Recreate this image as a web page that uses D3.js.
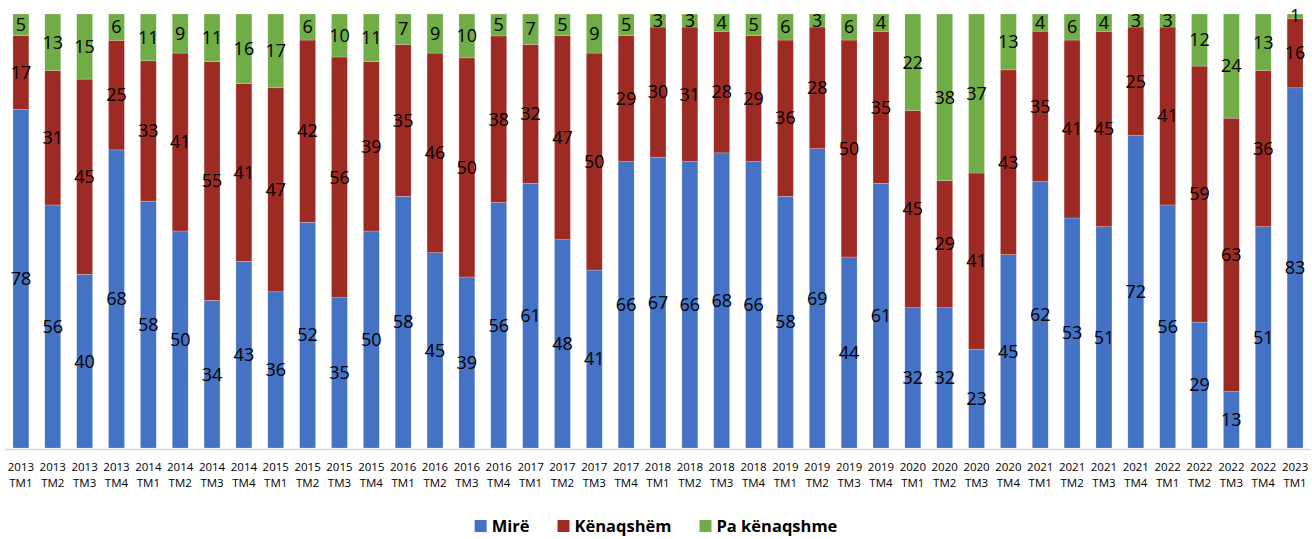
<!DOCTYPE html>
<html>
<head>
<meta charset="utf-8">
<script src="https://cdn.jsdelivr.net/npm/d3@7"></script>
<style>
  html, body { margin: 0; padding: 0; background: #fff; }
  svg { display: block; font-family: "Open Sans", sans-serif; }
</style>
</head>
<body>
<div id="chart"></div>
<script>
const years = ["2013","2013","2013","2013","2014","2014","2014","2014","2015","2015","2015","2015",
  "2016","2016","2016","2016","2017","2017","2017","2017","2018","2018","2018","2018",
  "2019","2019","2019","2019","2020","2020","2020","2020","2021","2021","2021","2021",
  "2022","2022","2022","2022","2023"];
const quarters = years.map((y, i) => "TM" + (i % 4 + 1));
const categories = years.map((y, i) => y + " " + quarters[i]);

const mire = [78,56,40,68,58,50,34,43,36,52,35,50,58,45,39,56,61,48,41,66,67,66,68,66,58,69,44,61,32,32,23,45,62,53,51,72,56,29,13,51,83];
const kenaqshem = [17,31,45,25,33,41,55,41,47,42,56,39,35,46,50,38,32,47,50,29,30,31,28,29,36,28,50,35,45,29,41,43,35,41,45,25,41,59,63,36,16];
const paKenaqshme = [5,13,15,6,11,9,11,16,17,6,10,11,7,9,10,5,7,5,9,5,3,3,4,5,6,3,6,4,22,38,37,13,4,6,4,3,3,12,24,13,1];

const seriesNames = ["Mirë", "Kënaqshëm", "Pa kënaqshme"];
const seriesColors = ["#4472C4", "#9E2B23", "#70AD47"];

const width = 1312;
const height = 539;
const margin = { top: 14, right: 1, bottom: 90, left: 5 };

const rows = categories.map((c, i) => {
  const total = mire[i] + kenaqshem[i] + paKenaqshme[i];
  return {
    cat: c, year: years[i], q: quarters[i], total,
    "Mirë": mire[i], "Kënaqshëm": kenaqshem[i], "Pa kënaqshme": paKenaqshme[i]
  };
});

// 100% stacked
const stack = d3.stack()
  .keys(seriesNames)
  .offset(d3.stackOffsetExpand);
const stacked = stack(rows);

const x = d3.scaleBand()
  .domain(categories)
  .range([margin.left, width - margin.right])
  .paddingInner(0.5)
  .paddingOuter(0.25);

const y = d3.scaleLinear()
  .domain([0, 1])
  .range([height - margin.bottom - 1, margin.top]);

const color = d3.scaleOrdinal().domain(seriesNames).range(seriesColors);

const svg = d3.select("#chart")
  .append("svg")
  .attr("width", width)
  .attr("height", height);

const layers = svg.append("g")
  .selectAll("g")
  .data(stacked)
  .join("g")
  .attr("fill", (s) => color(s.key));

layers.selectAll("rect")
  .data((s) => s)
  .join("rect")
  .attr("x", (d) => x(d.data.cat))
  .attr("width", x.bandwidth())
  .attr("y", (d) => y(d[1]))
  .attr("height", (d) => y(d[0]) - y(d[1]))
  .attr("stroke", "#ffffff")
  .attr("stroke-opacity", 0.35)
  .attr("stroke-width", 0.6);

// data labels
const labels = svg.append("g")
  .attr("font-size", 18)
  .attr("fill", "#000")
  .attr("text-anchor", "middle");

stacked.forEach((s) => {
  labels.selectAll(null)
    .data(s)
    .join("text")
    .attr("x", (d) => x(d.data.cat) + x.bandwidth() / 2)
    .attr("y", (d) => (y(d[0]) + y(d[1])) / 2)
    .attr("dy", "0.35em")
    .text((d) => d.data[s.key]);
});

// axis
const axisY = height - margin.bottom;
svg.append("line")
  .attr("x1", margin.left)
  .attr("x2", width - margin.right)
  .attr("y1", axisY + 0.5)
  .attr("y2", axisY + 0.5)
  .attr("stroke", "#D9D9D9")
  .attr("stroke-width", 1.5);

const ticks = svg.append("g")
  .attr("font-size", 11.5)
  .attr("fill", "#000")
  .attr("text-anchor", "middle");

const tick = ticks.selectAll("text")
  .data(rows)
  .join("text")
  .attr("x", (d) => x(d.cat) + x.bandwidth() / 2)
  .attr("y", 471);
tick.append("tspan")
  .attr("x", (d) => x(d.cat) + x.bandwidth() / 2)
  .text((d) => d.year);
tick.append("tspan")
  .attr("x", (d) => x(d.cat) + x.bandwidth() / 2)
  .attr("dy", 16)
  .text((d) => d.q);

// legend
const legend = svg.append("g").attr("font-size", 16.5).attr("font-weight", "bold");
const items = legend.selectAll("g")
  .data(seriesNames)
  .join("g");
items.append("rect")
  .attr("width", 12)
  .attr("height", 12)
  .attr("y", -6)
  .attr("fill", (d) => color(d));
items.append("text")
  .attr("x", 17)
  .attr("dy", "0.35em")
  .text((d) => d);

let widths = [];
items.each(function () {
  widths.push(17 + this.querySelector("text").getComputedTextLength());
});
const gap = 28;
const totalW = d3.sum(widths) + gap * (widths.length - 1);
let cx = width / 2 - totalW / 2;
items.attr("transform", (d, i) => {
  const t = `translate(${cx},526)`;
  cx += widths[i] + gap;
  return t;
});
</script>
</body>
</html>
